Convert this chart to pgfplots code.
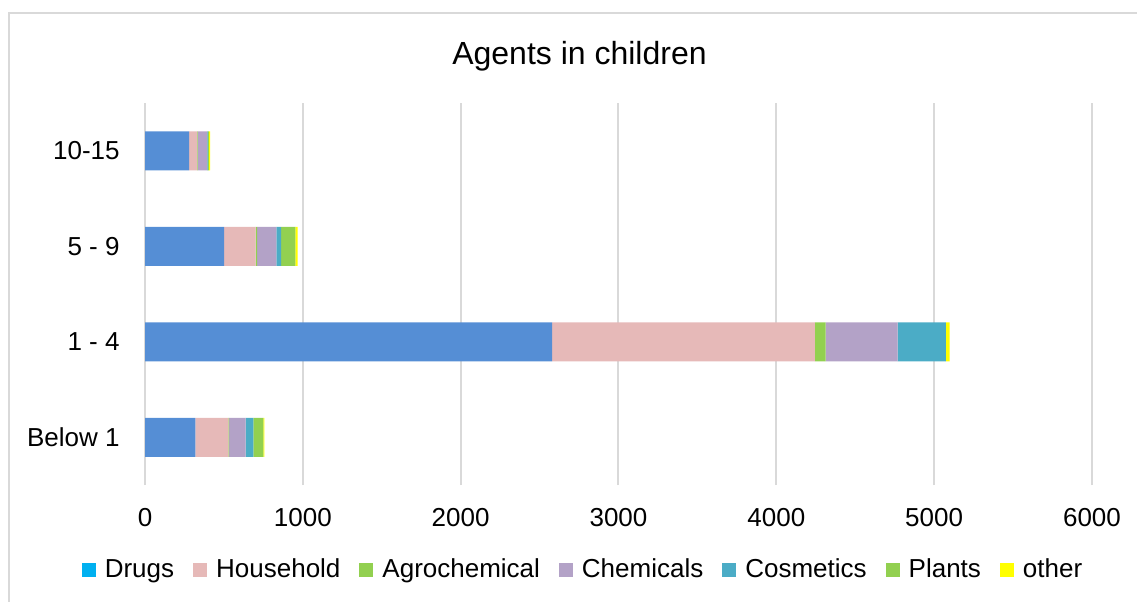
\documentclass[border=0pt]{standalone}
\usepackage{pgfplots}
\pgfplotsset{compat=1.18}
\usepackage{fontspec}
\setmainfont{Liberation Sans}

\definecolor{cdrug}{HTML}{558ED5}
\definecolor{cdrugleg}{HTML}{00B0F0}
\definecolor{chouse}{HTML}{E6B9B8}
\definecolor{cagro}{HTML}{92D050}
\definecolor{cchem}{HTML}{B3A2C7}
\definecolor{ccosm}{HTML}{4BACC6}
\definecolor{cplant}{HTML}{92D050}
\definecolor{cother}{HTML}{FFFF00}
\definecolor{cgrid}{HTML}{D9D9D9}

\begin{document}
\begin{tikzpicture}
\useasboundingbox (0,0) rectangle (568.5pt,300.5pt);
\draw[cgrid, line width=1pt] (4.25pt,-5pt) -- (4.25pt,294pt) -- (575pt,294pt);
\begin{axis}[
    at={(72.5pt,58pt)}, anchor=south west,
    scale only axis,
    width=473.5pt, height=191pt,
    xbar stacked,
    bar width=19.5pt,
    xmin=0, xmax=6000,
    ymin=-0.5, ymax=3.5,
    xtick={0,1000,...,6000},
    ytick={0,1,2,3},
    yticklabels={Below 1,1 - 4,5 - 9,10-15},
    axis line style={draw=none},
    major tick length=0pt,
    xmajorgrids,
    grid style={cgrid, line width=1pt},
    /pgf/number format/assume math mode=true,
    /pgf/number format/1000 sep={},
    scaled x ticks=false,
    xticklabel style={anchor=base, yshift=-20.5pt, font=\fontsize{13}{15}\selectfont},
    yticklabel style={anchor=east, inner sep=0pt, xshift=-12.5pt, font=\fontsize{13}{15}\selectfont},
    every axis plot/.append style={draw=none},
    legend image code/.code={\fill[#1] (0pt,-3.5pt) rectangle (7pt,3.5pt);},
    legend style={at={(0.4636,-0.2225)}, anchor=center, draw=none,
        font=\fontsize{13}{15}\selectfont,
        /tikz/every odd column/.append style={column sep=2.5pt},
        /tikz/every even column/.append style={column sep=7.5pt}},
    legend columns=-1,
]
\addplot[fill=cdrug, legend image code/.code={\fill[cdrugleg] (0pt,-3.5pt) rectangle (7pt,3.5pt);}]
    coordinates {(319,0) (2579,1) (502,2) (279,3)};
\addplot[fill=chouse] coordinates {(209,0) (1666,1) (199,2) (52,3)};
\addplot[fill=cagro] coordinates {(5,0) (68,1) (10,2) (2,3)};
\addplot[fill=cchem] coordinates {(105,0) (456,1) (122,2) (60,3)};
\addplot[fill=ccosm] coordinates {(49,0) (306,1) (30,2) (3,3)};
\addplot[fill=cplant] coordinates {(63,0) (0,1) (89,2) (8,3)};
\addplot[fill=cother] coordinates {(6,0) (23,1) (15,2) (8,3)};
\legend{Drugs,Household,Agrochemical,Chemicals,Cosmetics,Plants,other}
\end{axis}
\node[anchor=base, font=\fontsize{16}{19}\selectfont] at (289.75pt,268pt) {Agents in children};
\end{tikzpicture}
\end{document}
